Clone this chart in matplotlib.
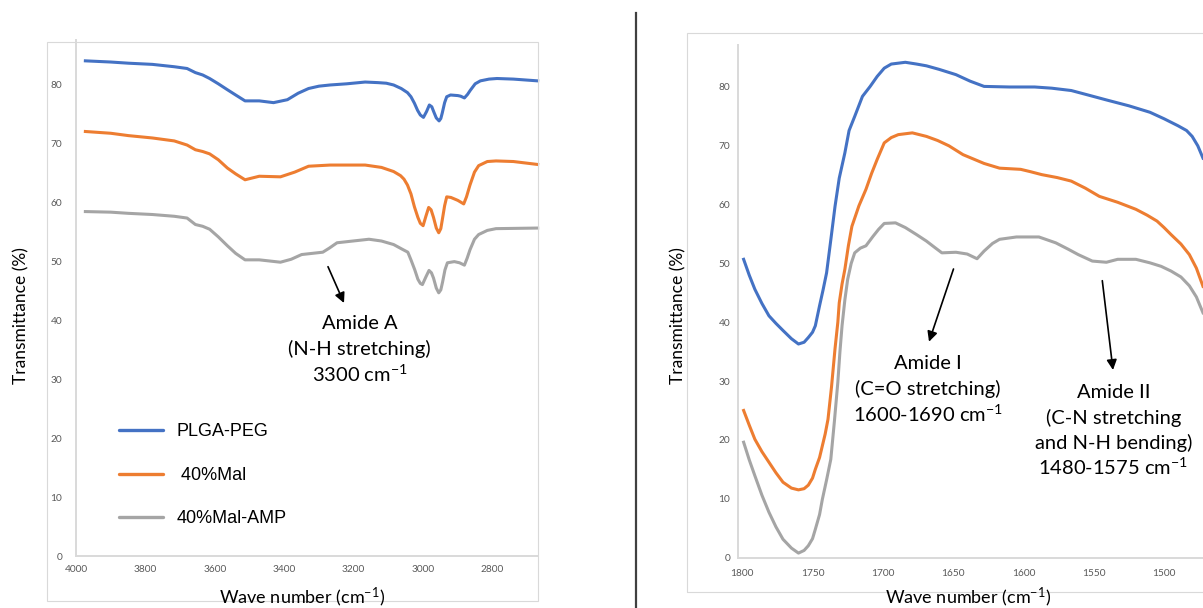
import matplotlib
matplotlib.use("Agg")
import matplotlib.pyplot as plt
from matplotlib.patches import Rectangle, FancyArrowPatch
from matplotlib.lines import Line2D

# ---------------- data ----------------
series_names = ["PLGA-PEG", " 40%Mal", "40%Mal-AMP"]
colors = ["#4472C4", "#ED7D31", "#A5A5A5"]

# Left panel (4000-2670 cm-1)
plga_wn_L = [3973, 3900, 3849, 3780, 3717, 3680, 3656, 3635, 3615, 3590, 3564, 3540, 3513, 3472,
             3431, 3391, 3360, 3330, 3300, 3268, 3220, 3167, 3130, 3106, 3085, 3063, 3045, 3035,
             3025, 3016, 3008, 2999, 2990, 2982, 2975, 2969, 2962, 2954, 2949, 2945, 2938, 2932,
             2921, 2900, 2892, 2881, 2872, 2864, 2850, 2835, 2810, 2787, 2740, 2670]
plga_T_L = [84.1, 83.9, 83.7, 83.5, 83.1, 82.8, 82.1, 81.7, 81.1, 80.2, 79.2, 78.3, 77.3, 77.3,
            77.0, 77.5, 78.6, 79.4, 79.8, 80.0, 80.2, 80.5, 80.4, 80.3, 80.0, 79.4, 78.7, 78.0,
            76.9, 75.7, 74.9, 74.5, 75.5, 76.6, 76.3, 75.4, 74.4, 73.9, 74.3, 75.2, 77.0, 78.0,
            78.3, 78.2, 78.1, 77.8, 78.4, 79.1, 80.2, 80.7, 81.0, 81.1, 81.0, 80.7]

mal_wn_L = [3973, 3900, 3849, 3780, 3717, 3680, 3656, 3635, 3615, 3590, 3564, 3540, 3513, 3472,
            3411, 3370, 3330, 3268, 3167, 3120, 3085, 3065, 3055, 3045, 3035, 3025, 3015, 3008,
            3000, 2992, 2984, 2977, 2970, 2962, 2955, 2949, 2945, 2938, 2932, 2920, 2900, 2883,
            2875, 2865, 2852, 2840, 2815, 2790, 2740, 2670]
mal_T_L = [72.1, 71.8, 71.4, 71.0, 70.5, 69.8, 69.0, 68.7, 68.3, 67.3, 65.9, 64.9, 63.9, 64.5,
           64.4, 65.2, 66.2, 66.4, 66.4, 66.0, 65.3, 64.6, 64.0, 63.0, 61.5, 59.3, 57.5, 56.5,
           56.1, 57.7, 59.2, 58.8, 57.5, 55.7, 54.9, 55.6, 57.0, 59.5, 61.0, 60.9, 60.4, 59.8,
           61.0, 63.0, 65.2, 66.3, 67.0, 67.1, 67.0, 66.5]

amp_wn_L = [3973, 3900, 3849, 3780, 3717, 3680, 3656, 3635, 3615, 3590, 3564, 3540, 3513, 3472,
            3411, 3380, 3350, 3289, 3270, 3248, 3156, 3120, 3085, 3060, 3044, 3035, 3024, 3015,
            3008, 3002, 2992, 2983, 2976, 2970, 2962, 2955, 2949, 2944, 2937, 2930, 2910, 2895,
            2881, 2873, 2865, 2852, 2840, 2815, 2790, 2670]
amp_T_L = [58.5, 58.4, 58.2, 58.0, 57.7, 57.4, 56.3, 56.0, 55.5, 54.2, 52.7, 51.4, 50.3, 50.3,
           49.9, 50.4, 51.2, 51.6, 52.3, 53.2, 53.8, 53.5, 52.9, 52.1, 51.6, 50.3, 48.6, 47.0,
           46.3, 46.1, 47.4, 48.5, 48.1, 47.2, 45.5, 44.7, 45.2, 46.5, 48.6, 49.8, 50.0, 49.8,
           49.4, 50.6, 52.0, 53.8, 54.6, 55.3, 55.6, 55.7]

# Right panel (1800-1472 cm-1)
plga_wn_R = [1799, 1795, 1791, 1786, 1781, 1776, 1771, 1765, 1760, 1756, 1753, 1750, 1748, 1745,
             1742.5, 1740, 1737, 1734, 1731, 1727, 1724, 1720, 1714.5, 1709, 1704, 1699, 1694,
             1684, 1676, 1669, 1660, 1648, 1638, 1628, 1610, 1592, 1580, 1566, 1555, 1541, 1525,
             1510, 1500, 1490, 1484, 1480, 1476, 1472.3]
plga_T_R = [50.7, 48.0, 45.6, 43.2, 41.1, 39.8, 38.6, 37.2, 36.3, 36.6, 37.4, 38.3, 39.4, 42.8,
            45.5, 48.4, 54.0, 59.7, 64.5, 68.8, 72.6, 75.0, 78.4, 80.1, 81.8, 83.2, 83.9,
            84.2, 83.9, 83.6, 83.0, 82.1, 81.0, 80.1, 80.0, 80.0, 79.8, 79.4, 78.7, 77.8, 76.8,
            75.7, 74.6, 73.4, 72.6, 71.6, 70.0, 67.9]

mal_wn_R = [1799, 1795, 1791, 1786, 1781, 1776, 1771, 1765, 1760, 1756, 1753, 1750, 1748, 1745,
            1743, 1741, 1739, 1736.5, 1734, 1732, 1731, 1729, 1727, 1724.5, 1722, 1717, 1712,
            1708, 1704, 1699, 1694, 1689, 1679, 1669, 1661, 1653, 1643, 1635, 1628, 1617, 1602,
            1595, 1587, 1576, 1566, 1556, 1546, 1533, 1520, 1512, 1505, 1500, 1495, 1488, 1482,
            1477, 1472.3]
mal_T_R = [25.0, 22.5, 20.1, 18.0, 16.2, 14.4, 12.8, 11.8, 11.5, 11.7, 12.3, 13.5, 15.0, 17.0,
           19.0, 21.0, 23.5, 29.0, 35.5, 40.0, 43.3, 46.5, 49.0, 53.0, 56.3, 59.8, 62.6,
           65.3, 67.7, 70.5, 71.4, 71.9, 72.2, 71.6, 70.9, 70.0, 68.5, 67.7, 67.0, 66.2, 66.0,
           65.6, 65.1, 64.6, 64.0, 62.8, 61.4, 60.4, 59.2, 58.2, 57.2, 56.1, 54.9, 53.3, 51.5,
           49.2, 46.1]

amp_wn_R = [1799, 1795, 1791, 1786, 1781, 1776, 1771, 1765, 1760, 1756, 1753, 1750, 1748, 1745,
            1743, 1740, 1737, 1734.5, 1732, 1730.5, 1729, 1727, 1725, 1722.5, 1720, 1716, 1712,
            1707, 1703, 1699, 1691, 1684, 1676, 1669, 1663, 1658, 1648, 1640, 1633, 1628, 1622,
            1617, 1605, 1589, 1577, 1568, 1561, 1551, 1541, 1533, 1520, 1510, 1502, 1495, 1488,
            1482, 1477, 1472.3]
amp_T_R = [19.6, 16.6, 13.9, 10.6, 7.7, 5.2, 3.1, 1.6, 0.75, 1.2, 2.0, 3.2, 4.8, 7.3,
           9.9, 13.2, 16.7, 23.0, 29.8, 35.0, 39.4, 43.8, 47.3, 50.0, 51.8, 52.6, 53.0,
           54.6, 55.8, 56.8, 56.9, 56.1, 54.9, 53.8, 52.7, 51.8, 51.9, 51.6, 50.8, 52.1, 53.4,
           54.1, 54.5, 54.5, 53.5, 52.4, 51.5, 50.4, 50.2, 50.7, 50.7, 50.1, 49.5, 48.7, 47.7,
           46.2, 44.3, 41.6]

xticks_L = [4000, 3800, 3600, 3400, 3200, 3000, 2800]
xticks_R = [1800, 1750, 1700, 1650, 1600, 1550, 1500]
yticks = [0, 10, 20, 30, 40, 50, 60, 70, 80]

# ---------------- style ----------------
plt.rcParams['font.family'] = ['Lato', 'DejaVu Sans']
plt.rcParams['mathtext.fontset'] = 'custom'
plt.rcParams['mathtext.rm'] = 'Lato'
plt.rcParams['mathtext.default'] = 'regular'

W, H = 1203, 608
fig = plt.figure(figsize=(W / 100, H / 100), dpi=100)


def fx(px):
    return px / W


def fy(py):
    return 1 - py / H


def axes_box(x0, y0, x1, y1):
    return [fx(x0), fy(y1), fx(x1) - fx(x0), fy(y0) - fy(y1)]


# outer chart frames
fig.patches.append(Rectangle((fx(47.3), fy(600.7)), fx(538) - fx(47.3), fy(41.7) - fy(600.7),
                             transform=fig.transFigure, fill=False, ec="#d9d9d9", lw=0.8))
fig.patches.append(Rectangle((fx(686.7), fy(591.7)), fx(1250) - fx(686.7), fy(33.3) - fy(591.7),
                             transform=fig.transFigure, fill=False, ec="#d9d9d9", lw=0.8))
# divider
fig.add_artist(Line2D([fx(636), fx(636)], [fy(13), fy(608)], transform=fig.transFigure,
                      color="#404040", lw=1.6))

axL = fig.add_axes(axes_box(76, 40, 538, 556))
axR = fig.add_axes(axes_box(738, 45, 1203, 557.5))

for ax in (axL, axR):
    for s in ("top", "right"):
        ax.spines[s].set_visible(False)
    for s in ("left", "bottom"):
        ax.spines[s].set_color("#d9d9d9")
        ax.spines[s].set_linewidth(1.4)
    ax.set_yticks(yticks)
    ax.tick_params(length=0, labelsize=7.3, labelcolor="#595959")
    ax.patch.set_alpha(0)

axL.set_xlim(3989, 2669)
axL.set_ylim(0, 87.64)
axL.set_xticks(xticks_L)
axL.tick_params(axis="y", pad=10)
axL.tick_params(axis="x", pad=6.5)

axR.set_xlim(1803, 1472.3)
axR.set_ylim(0, 87.14)
axR.set_xticks(xticks_R)
axR.tick_params(axis="y", pad=5.5)
axR.tick_params(axis="x", pad=8)

lw = 2.2
left_data = [(plga_wn_L, plga_T_L), (mal_wn_L, mal_T_L), (amp_wn_L, amp_T_L)]
right_data = [(plga_wn_R, plga_T_R), (mal_wn_R, mal_T_R), (amp_wn_R, amp_T_R)]
for (x, y), c, name in zip(left_data, colors, series_names):
    axL.plot(x, y, color=c, lw=lw, label=name, clip_on=False, solid_joinstyle="round")
for (x, y), c in zip(right_data, colors):
    axR.plot(x, y, color=c, lw=lw, clip_on=True, solid_joinstyle="round")

# legend
leg_fs = 13
leg_handles = [Line2D([0], [0], color=c, lw=2.4, solid_capstyle="round") for c in colors]
fig.legend(leg_handles, series_names, loc="upper left",
           bbox_to_anchor=(fx(119), fy(423.5)), bbox_transform=fig.transFigure,
           frameon=False, borderpad=0, borderaxespad=0, handlelength=2.44,
           handletextpad=0.74, labelspacing=1.46,
           prop={"family": "Liberation Sans", "size": leg_fs})

# axis titles
fig.text(fx(21.5), fy(315.5), "Transmittance (%)", rotation=90, ha="center", va="center",
         fontsize=12.5)
fig.text(fx(678), fy(315.5), "Transmittance (%)", rotation=90, ha="center", va="center",
         fontsize=12.5)
fig.text(fx(302), fy(604), "Wave number (cm$^{-1}$)", ha="center", va="baseline", fontsize=13)
fig.text(fx(968), fy(604), "Wave number (cm$^{-1}$)", ha="center", va="baseline", fontsize=13)

# annotations
ann_fs = 14.5


def block(xc, baselines, lines):
    for b, t in zip(baselines, lines):
        fig.text(fx(xc), fy(b), t, ha="center", va="baseline", fontsize=ann_fs, color="black")


block(359.5, [329.3, 355.5, 381.5], ["Amide A", "(N-H stretching)", "3300 cm$^{-1}$"])
block(928, [369.3, 395.5, 421.5], ["Amide I", "(C=O stretching)", "1600-1690 cm$^{-1}$"])
block(1113.3, [398, 424, 449.5, 475],
      ["Amide II", "(C-N stretching", "and N-H bending)", "1480-1575 cm$^{-1}$"])


def arrow(x0, y0, x1, y1):
    fig.add_artist(FancyArrowPatch(
        (fx(x0), fy(y0)), (fx(x1), fy(y1)), transform=fig.transFigure,
        arrowstyle="-|>,head_length=6,head_width=3", color="black", lw=1.2,
        shrinkA=0, shrinkB=0))


arrow(328, 266.7, 344, 303)
arrow(953.5, 269, 929, 341.7)
arrow(1102.3, 280.7, 1113, 370)

fig.savefig("out.png", dpi=100)
